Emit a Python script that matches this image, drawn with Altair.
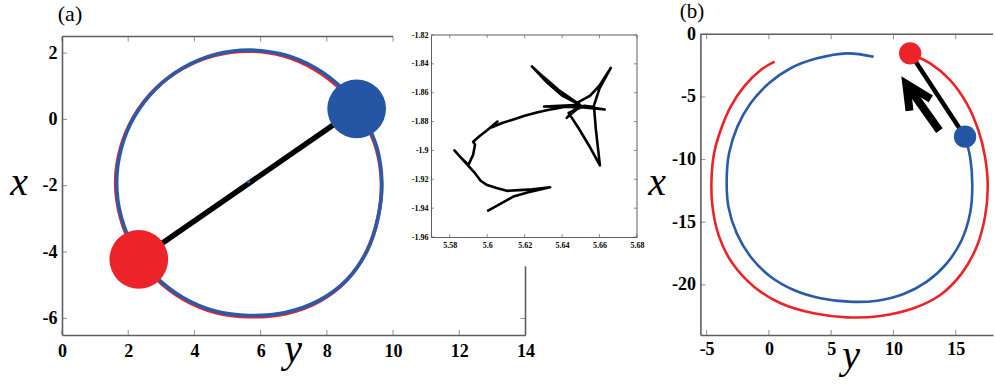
import altair as alt
import pandas as pd

# ---------------- panel (a) : main trajectories (horizontal = y, vertical = x) ----------------
A_BLUE_H = [9.12, 8.48, 7.66, 6.69, 5.655, 4.62, 3.65, 2.83, 2.19, 1.79, 1.65, 1.79, 2.19, 2.83, 3.65,
            4.62, 5.655, 6.75, 7.78, 8.62, 9.22, 9.55, 9.66, 9.52, 9.12]
A_BLUE_V = [0.09, 0.92, 1.55, 1.955, 2.09, 1.955, 1.55, 0.92, 0.09, -0.875, -1.91, -2.945, -3.91, -4.74, -5.37,
            -5.775, -5.91, -5.82, -5.45, -4.82, -3.95, -2.95, -1.91, -0.875, 0.09]
A_RED_H = [9.10, 8.45, 7.63, 6.68, 5.64, 4.60, 3.63, 2.80, 2.16, 1.76, 1.62, 1.77, 2.18, 2.83, 3.66,
           4.63, 5.66, 6.76, 7.78, 8.60, 9.20, 9.54, 9.65, 9.50, 9.10]
A_RED_V = [0.06, 0.88, 1.51, 1.92, 2.06, 1.93, 1.53, 0.90, 0.07, -0.89, -1.92, -2.97, -3.95, -4.79, -5.42,
           -5.82, -5.95, -5.86, -5.48, -4.85, -3.98, -2.97, -1.93, -0.90, 0.06]
A_BALL_H = [2.32, 8.90]          # red ball, blue ball
A_BALL_V = [-4.22, 0.32]
A_CENTER_H = [5.64]
A_CENTER_V = [-1.88]
A_XTICKS = [0, 2, 4, 6, 8, 10, 12, 14]
A_YTICKS = [-6, -4, -2, 0, 2]
A_TOP_TICKS = [0, 2, 4, 6, 8, 10]
A_RIGHT_TICKS = [-6]
A_XDOM = [0, 14]
A_YDOM = [-6.5, 2.5]
A_TOP_SPAN = [0, 10]
A_RIGHT_SPAN = [-6.5, -4.43]

# ---------------- inset : centre-of-mass wander ----------------
INSET_H = [5.600, 5.607, 5.614, 5.622, 5.6336, 5.624, 5.617, 5.6105, 5.605, 5.600, 5.5965, 5.593, 5.588,
           5.5825, 5.586, 5.590, 5.5925, 5.5935, 5.5925, 5.596, 5.600, 5.6055, 5.6025, 5.608, 5.614, 5.620,
           5.627, 5.633, 5.637, 5.644, 5.6496, 5.6304, 5.650, 5.6628, 5.650, 5.6425, 5.649, 5.640, 5.632,
           5.6239, 5.630, 5.638, 5.648, 5.655, 5.660, 5.666, 5.660, 5.657, 5.658, 5.6602, 5.655, 5.649,
           5.6435, 5.652, 5.6575]
INSET_V = [-1.942, -1.937, -1.932, -1.929, -1.9255, -1.927, -1.9275, -1.928, -1.926, -1.924, -1.921, -1.915,
           -1.908, -1.900, -1.905, -1.910, -1.903, -1.896, -1.894, -1.890, -1.886, -1.880, -1.884, -1.881,
           -1.8785, -1.876, -1.8735, -1.8718, -1.871, -1.869, -1.8684, -1.8696, -1.870, -1.8716, -1.869,
           -1.8774, -1.868, -1.862, -1.853, -1.8418, -1.849, -1.858, -1.867, -1.862, -1.855, -1.8428, -1.857,
           -1.869, -1.885, -1.9104, -1.898, -1.885, -1.874, -1.869, -1.870]
INSET_XTICKS = [5.58, 5.60, 5.62, 5.64, 5.66, 5.68]
INSET_YTICKS = [-1.96, -1.94, -1.92, -1.90, -1.88, -1.86, -1.84, -1.82]
INSET_XDOM = [5.57, 5.68]
INSET_YDOM = [-1.96, -1.82]

# ---------------- panel (b) ----------------
B_RED_H = [11.36, 12.95, 14.55, 15.88, 16.81, 17.35, 17.57, 17.35, 16.68, 15.48, 13.75, 11.61, 8.94, 6.28,
           3.60, 0.94, -1.20, -2.93, -4.00, -4.53, -4.61, -4.40, -3.87, -3.07, -2.00, -0.66, 0.46]
B_RED_V = [-1.57, -2.32, -3.65, -5.51, -7.64, -9.77, -12.16, -14.56, -16.95, -19.08, -20.81, -21.87, -22.48,
           -22.59, -22.27, -21.47, -20.14, -18.28, -16.15, -13.76, -11.63, -9.50, -7.64, -5.78, -4.18, -2.85,
           -2.18]
B_BLUE_H = [15.75, 16.15, 16.33, 16.15, 15.48, 14.28, 12.68, 10.81, 8.68, 6.41, 4.14, 2.00, 0.14, -1.47,
            -2.60, -3.25, -3.39, -3.20, -2.53, -1.47, 0.00, 1.74, 3.87, 6.28, 8.41]
B_BLUE_V = [-8.22, -9.77, -12.16, -14.29, -16.42, -18.28, -19.74, -20.73, -21.26, -21.34, -21.07, -20.41,
            -19.35, -17.75, -15.85, -13.76, -11.63, -9.50, -7.37, -5.51, -3.91, -2.71, -1.92, -1.52, -1.79]
B_BALL_H = [11.34, 15.75]        # red ball, blue ball
B_BALL_V = [-1.52, -8.17]
B_SHAFT_H = [13.69, 11.03]
B_SHAFT_V = [-7.69, -3.97]
B_HEAD_H = [11.29, 11.03, 13.00]
B_HEAD_V = [-6.10, -3.97, -5.16]
B_XTICKS = [-5, 0, 5, 10, 15]
B_YTICKS = [-20, -15, -10, -5, 0]
B_XDOM = [-5.5, 18]
B_YDOM = [-24, 0]

# ---------------- styling ----------------
GRAY = "#5f5f5f"
BLUE = "#2A5BA8"
BALL_BLUE = "#2456A5"
RED = "#EC2329"
SERIF = "Liberation Serif"
LBL = "'' + datum.value"


class Panel:
    def __init__(self, xdom, xrng, ydom, yrng, xaxis, yaxis):
        self.sx = alt.Scale(domain=xdom, range=xrng, nice=False, zero=False)
        self.sy = alt.Scale(domain=ydom, range=yrng, nice=False, zero=False)
        self.xaxis = xaxis
        self.yaxis = yaxis

    def X(self, f="h"):
        return alt.X(f"{f}:Q", scale=self.sx, axis=self.xaxis)

    def Y(self, f="v"):
        return alt.Y(f"{f}:Q", scale=self.sy, axis=self.yaxis)


def make_axis(orient, offset, values, size, pad, width):
    return alt.Axis(orient=orient, offset=offset, values=values, labelExpr=LBL, labelFontSize=size,
                    labelPadding=pad, domainWidth=width, domainColor=GRAY, ticks=False, tickSize=0,
                    grid=False, labelFlush=False, labelOverlap=False, labelFont=SERIF,
                    labelFontWeight="bold", labelColor="black", title=None)


def path(P, hs, vs, color, width, interp="catmull-rom", join="round"):
    df = pd.DataFrame({"h": hs, "v": vs, "i": list(range(len(hs)))})
    return alt.Chart(df).mark_line(color=color, strokeWidth=width, interpolate=interp,
                                   strokeJoin=join).encode(x=P.X(), y=P.Y(), order="i:Q")


def balls(P, hs, vs, colors, size):
    df = pd.DataFrame({"h": hs, "v": vs, "c": colors})
    return alt.Chart(df).mark_circle(size=size, opacity=1).encode(
        x=P.X(), y=P.Y(), color=alt.Color("c:N", scale=None))


def ticks(P, vals, edge, side, length, width=1):
    if side in ("bottom", "top"):
        df = pd.DataFrame({"h": vals, "v": [edge] * len(vals)})
        off = -length / 2 if side == "bottom" else length / 2
        m = alt.Chart(df).mark_tick(orient="vertical", size=length, thickness=width, color=GRAY, yOffset=off)
    else:
        df = pd.DataFrame({"h": [edge] * len(vals), "v": vals})
        off = length / 2 if side == "left" else -length / 2
        m = alt.Chart(df).mark_tick(orient="horizontal", size=length, thickness=width, color=GRAY, xOffset=off)
    return m.encode(x=P.X(), y=P.Y())


def hseg(P, span, level, width):
    df = pd.DataFrame({"h": [span[0]], "h2": [span[1]], "v": [level]})
    return alt.Chart(df).mark_rule(color=GRAY, strokeWidth=width).encode(x=P.X(), x2="h2:Q", y=P.Y())


def vseg(P, span, level, width):
    df = pd.DataFrame({"v": [span[0]], "v2": [span[1]], "h": [level]})
    return alt.Chart(df).mark_rule(color=GRAY, strokeWidth=width).encode(x=P.X(), y=P.Y(), y2="v2:Q")


H = 385

# ----- panel (a)
PA = Panel(A_XDOM, [62, 525.5], A_YDOM, [335, 36.5],
           make_axis("bottom", 335 - H, A_XTICKS, 18, 7, 1.6),
           make_axis("left", -62, A_YTICKS, 18, 5, 1.6))
panel_a = alt.layer(
    hseg(PA, A_TOP_SPAN, A_YDOM[1], 1.6),
    vseg(PA, A_RIGHT_SPAN, A_XDOM[1], 1.6),
    ticks(PA, A_XTICKS, A_YDOM[0], "bottom", 5),
    ticks(PA, A_TOP_TICKS, A_YDOM[1], "top", 5),
    ticks(PA, A_YTICKS, A_XDOM[0], "left", 5),
    ticks(PA, A_RIGHT_TICKS, A_XDOM[1], "right", 5),
    path(PA, A_RED_H, A_RED_V, RED, 3.6),
    path(PA, A_BLUE_H, A_BLUE_V, BLUE, 3.6),
    path(PA, [A_BALL_H[0], A_BALL_H[1]], [A_BALL_V[0], A_BALL_V[1]], "black", 5.5, "linear"),
    balls(PA, A_CENTER_H, A_CENTER_V, [BLUE], 12),
    balls(PA, A_BALL_H, A_BALL_V, [RED, BALL_BLUE], 3450),
)

# ----- inset
PI = Panel(INSET_XDOM, [431, 637], INSET_YDOM, [237, 35],
           make_axis("bottom", 237 - H, INSET_XTICKS, 8, 4, 1),
           make_axis("left", -431, INSET_YTICKS, 8, 3, 1))
inset = alt.layer(
    hseg(PI, INSET_XDOM, INSET_YDOM[1], 1),
    vseg(PI, INSET_YDOM, INSET_XDOM[1], 1),
    ticks(PI, INSET_XTICKS, INSET_YDOM[0], "bottom", 3),
    ticks(PI, INSET_XTICKS, INSET_YDOM[1], "top", 3),
    ticks(PI, INSET_YTICKS, INSET_XDOM[0], "left", 3),
    ticks(PI, INSET_YTICKS, INSET_XDOM[1], "right", 3),
    path(PI, INSET_H, INSET_V, "black", 2.6, "linear"),
)

# ----- panel (b)
PB = Panel(B_XDOM, [700.4, 993.1], B_YDOM, [335, 34.3],
           make_axis("bottom", 335 - H, B_XTICKS, 18, 5, 1.6),
           make_axis("left", -700.4, B_YTICKS, 18, 5, 1.6))
panel_b = alt.layer(
    hseg(PB, B_XDOM, B_YDOM[1], 1.6),
    ticks(PB, B_XTICKS, B_YDOM[0], "bottom", 5),
    ticks(PB, B_XTICKS, B_YDOM[1], "top", 5),
    ticks(PB, B_YTICKS, B_XDOM[0], "left", 5),
    path(PB, B_RED_H, B_RED_V, RED, 2.6),
    path(PB, B_BLUE_H, B_BLUE_V, BLUE, 2.6),
    path(PB, [B_BALL_H[0], B_BALL_H[1]], [B_BALL_V[0], B_BALL_V[1]], "black", 4.5, "linear"),
    balls(PB, B_BALL_H, B_BALL_V, [RED, BALL_BLUE], 500),
    path(PB, B_SHAFT_H, B_SHAFT_V, "black", 8, "linear"),
    path(PB, B_HEAD_H, B_HEAD_V, "black", 8, "linear", "miter"),
)


def label(text, x, y, size, italic=False, baseline="alphabetic"):
    return alt.Chart(pd.DataFrame({"t": [text]})).mark_text(
        font=SERIF, fontSize=size, fontStyle="italic" if italic else "normal", color="black",
        align="center", baseline=baseline).encode(text="t:N", x=alt.value(x), y=alt.value(y))


texts = [
    label("(a)", 70, 21, 22),
    label("(b)", 692, 18, 21),
    label("x", 19, 195, 40, True),
    label("y", 293, 362, 40, True),
    label("x", 657, 195, 40, True),
    label("y", 851, 368, 40, True),
]

chart = alt.layer(panel_a, inset, panel_b, *texts).resolve_scale(
    x="independent", y="independent"
).properties(
    width=995, height=385, autosize=alt.AutoSizeParams(type="none"), padding=0
).configure_view(strokeWidth=0)

chart.save("out.html", embed_options={"renderer": "svg", "actions": False})
